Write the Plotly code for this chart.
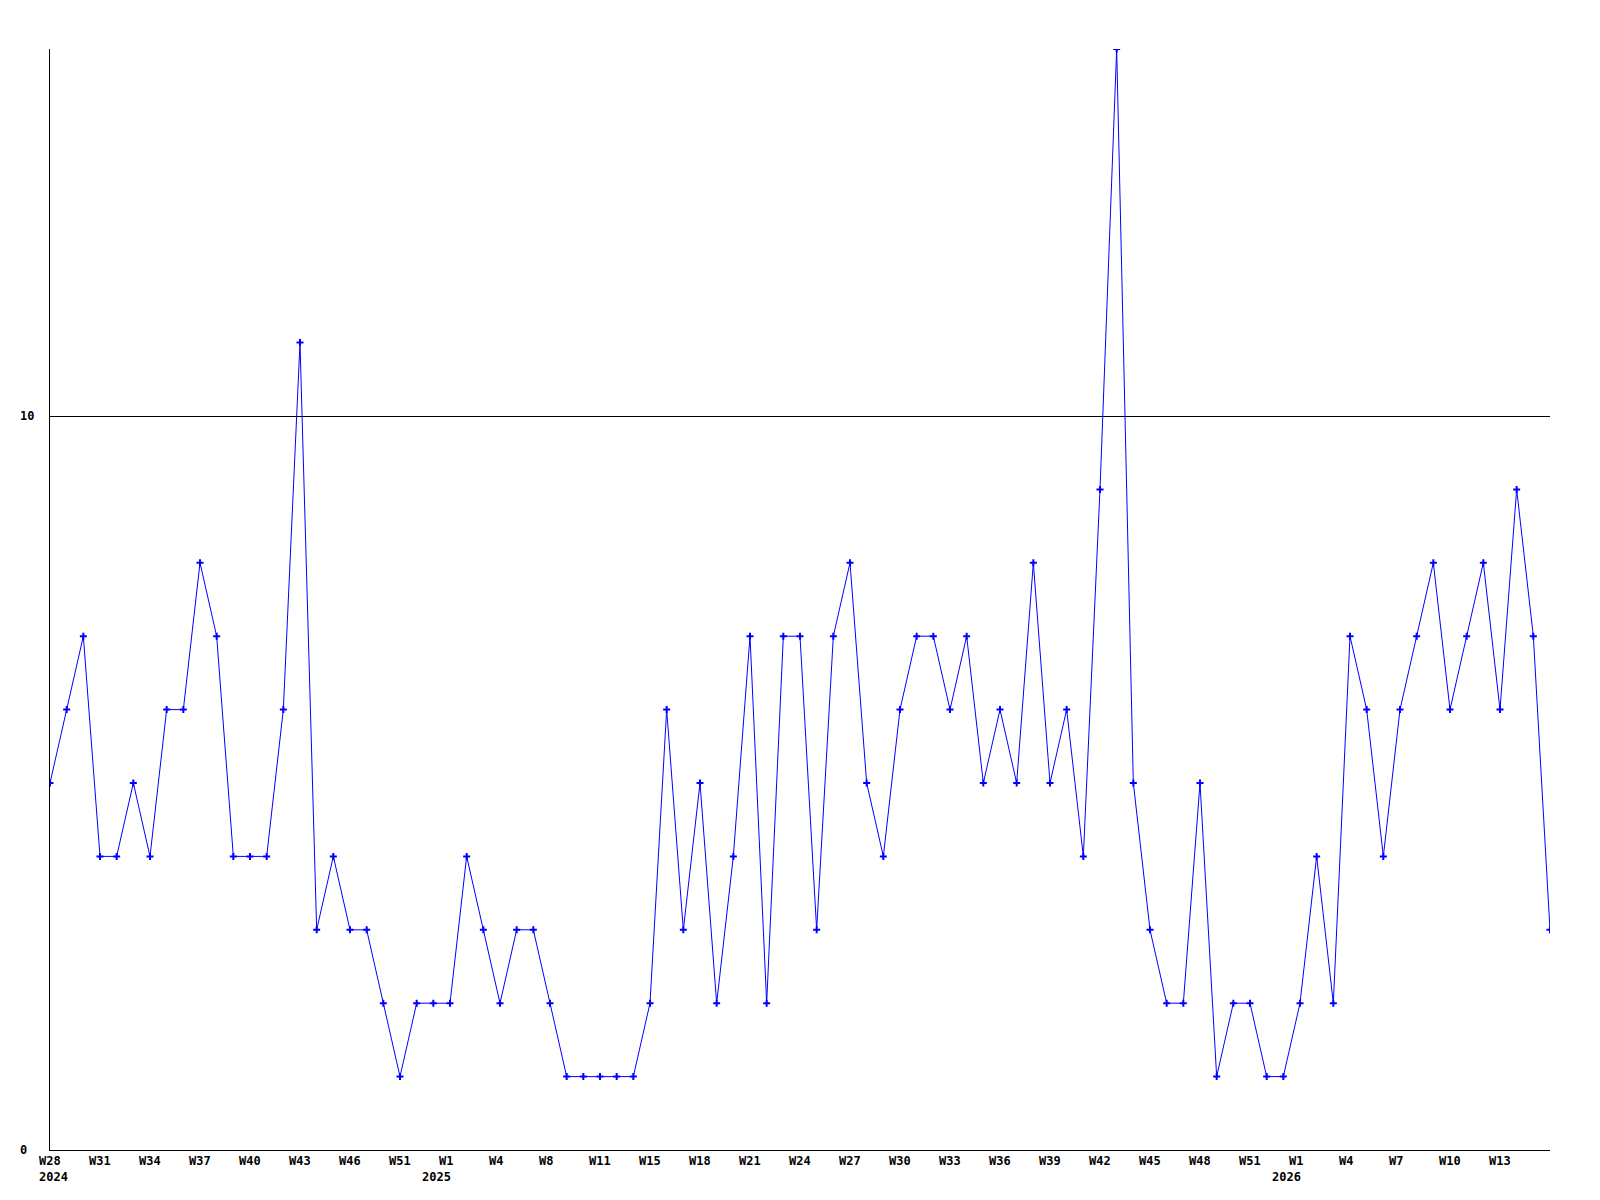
import plotly.graph_objects as go

values = [5, 6, 7, 4, 4, 5, 4, 6, 6, 8, 7, 4, 4, 4, 6, 11, 3, 4, 3, 3,
          2, 1, 2, 2, 2, 4, 3, 2, 3, 3, 2, 1, 1, 1, 1, 1, 2, 6, 3, 5,
          2, 4, 7, 2, 7, 7, 3, 7, 8, 5, 4, 6, 7, 7, 6, 7, 5, 6, 5, 8,
          5, 6, 4, 9, 15, 5, 3, 2, 2, 5, 1, 2, 2, 1, 1, 2, 4, 2, 7, 6,
          4, 6, 7, 8, 6, 7, 8, 6, 9, 7, 3]

week_labels = ["W28", "W31", "W34", "W37", "W40", "W43", "W46", "W51", "W1", "W4",
               "W8", "W11", "W15", "W18", "W21", "W24", "W27", "W30", "W33", "W36",
               "W39", "W42", "W45", "W48", "W51", "W1", "W4", "W7", "W10", "W13"]
year_labels = {0: "2024", 8: "2025", 25: "2026"}
y_ticks = [0, 10]

x = list(range(len(values)))
tickvals = [i * 3 for i in range(len(week_labels))]

fig = go.Figure()
fig.add_trace(go.Scatter(
    x=x, y=values, mode="lines+markers",
    line=dict(color="#0000ff", width=1),
    marker=dict(symbol="cross-thin", size=5, color="#0000ff", line=dict(color="#0000ff", width=2)),
    showlegend=False, hoverinfo="skip",
))

font = dict(family="DejaVu Sans Mono", size=12, color="black", weight="bold")

# y tick labels (left aligned)
for v in y_ticks:
    fig.add_annotation(xref="paper", yref="y", x=0, y=v, xshift=-32, xanchor="left",
                       yanchor="middle", text=str(v), showarrow=False, font=font)

# x tick labels (left aligned just before the tick)
for tv, lab in zip(tickvals, week_labels):
    fig.add_annotation(xref="x", yref="paper", x=tv, y=0, xshift=-13, yshift=-11,
                       xanchor="left", yanchor="middle", text=lab, showarrow=False, font=font)

# year labels
for i, yr in year_labels.items():
    shift = -13 if i == 0 else -30
    fig.add_annotation(xref="x", yref="paper", x=tickvals[i], y=0, xshift=shift, yshift=-27,
                       xanchor="left", yanchor="middle", text=yr, showarrow=False, font=font)

fig.update_layout(
    width=1600, height=1200,
    paper_bgcolor="white", plot_bgcolor="white",
    margin=dict(l=42, r=58, t=41, b=58, pad=0),
    font=font,
    xaxis=dict(
        range=[0, len(values) - 1], tickvals=tickvals, showticklabels=False,
        showgrid=False, zeroline=False, showline=True, linecolor="black", linewidth=1,
        ticks="",
    ),
    yaxis=dict(
        range=[0, 15], tickvals=y_ticks, showticklabels=False,
        showgrid=True, gridcolor="black", gridwidth=1, zeroline=False,
        showline=True, linecolor="black", linewidth=1, ticks="",
    ),
)

fig.write_html("out.html")
